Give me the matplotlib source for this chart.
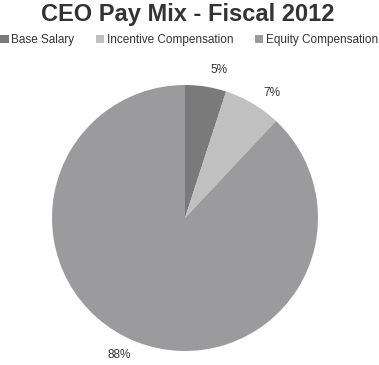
import matplotlib
matplotlib.use("Agg")
import matplotlib.pyplot as plt
import numpy as np

categories = ["Base Salary", "Incentive Compensation", "Equity Compensation"]
values = [5, 7, 88]
labels = ["5%", "7%", "88%"]
colors = ["#7a7a7a", "#c0c0c0", "#9b9b9d"]

plt.rcParams['font.family'] = ['Liberation Sans', 'DejaVu Sans']

W, H = 379, 365
fig = plt.figure(figsize=(W / 100, H / 100), dpi=100)
cx, cy, r = 185, 218, 133
ax = fig.add_axes([(cx - r) / W, (H - cy - r) / H, 2 * r / W, 2 * r / H])
wedges, _ = ax.pie(values, colors=colors, startangle=90, counterclock=False)
for w, lab in zip(wedges, labels):
    ang = np.deg2rad((w.theta1 + w.theta2) / 2 - 4)
    ax.text(1.145 * np.cos(ang), 1.145 * np.sin(ang), lab, ha="center", va="center",
            fontsize=8.5, color="#333333")
ax.set_xlim(-1, 1)
ax.set_ylim(-1, 1)
ax.set_aspect("equal")
ax.axis("off")

fig.text(188 / W, 1 - 14 / H, "CEO Pay Mix - Fiscal 2012", ha="center", va="center",
         fontsize=17, fontweight="bold", color="#333333")

leg = fig.legend(wedges, categories, loc="center left", bbox_to_anchor=(0.0, 1 - 40 / H),
                 ncol=3, frameon=False, fontsize=8.5, handlelength=0.75, handleheight=0.7,
                 handletextpad=0.2, columnspacing=1.8, borderaxespad=0, borderpad=0)
for t in leg.get_texts():
    t.set_color("#333333")

fig.savefig("out.png", dpi=100)
